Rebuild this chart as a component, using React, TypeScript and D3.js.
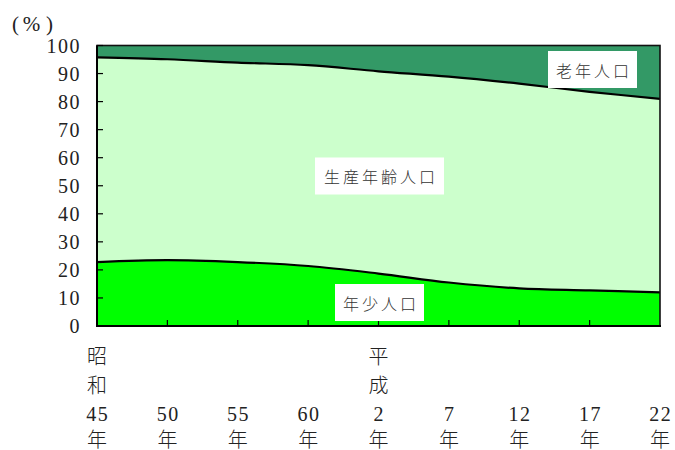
import React from "react";
import * as d3 from "d3";

// 年齢3区分別人口構成比（%）
const eraLabels = ["昭和", "", "", "", "平成", "", "", "", ""];
const yearLabels = ["45", "50", "55", "60", "2", "7", "12", "17", "22"];
const youngShare = [22.8, 23.5, 22.8, 21.4, 18.7, 15.5, 13.4, 12.7, 12.0];
const workingShare = [73.0, 71.6, 71.1, 71.6, 72.1, 73.4, 73.0, 70.8, 69.0];
const elderlyShare = [4.2, 4.9, 6.1, 7.0, 9.2, 11.1, 13.6, 16.5, 19.0];
const yTicks = [0, 10, 20, 30, 40, 50, 60, 70, 80, 90, 100];
const seriesKeys = ["young", "working", "elderly"];

const W = 675;
const H = 450;
const left = 97;
const right = 660;
const top = 45.5;
const bottom = 326;

const serif = "'Liberation Serif', 'DejaVu Serif', 'Noto Sans CJK JP', serif";
const gothic = "'Noto Sans CJK JP', 'Noto Sans', sans-serif";

const fills: Record<string, string> = {
  young: "#00ff00",
  working: "#ccffcc",
  elderly: "#339966",
};

export default function App() {
  const rows = yearLabels.map((y, i) => ({
    key: i,
    young: youngShare[i],
    working: workingShare[i],
    elderly: elderlyShare[i],
  }));
  const x = d3
    .scalePoint<number>()
    .domain(rows.map((r) => r.key))
    .range([left, right]);
  const y = d3.scaleLinear().domain([0, 100]).range([bottom, top]);
  const stacked = d3.stack<any>().keys(seriesKeys)(rows);

  const curve = d3.curveCatmullRom.alpha(0.5);
  const area = d3
    .area<any>()
    .x((d) => x(d.data.key) as number)
    .y0((d) => y(d[0]))
    .y1((d) => y(d[1]))
    .curve(curve);
  const boundary = d3
    .line<any>()
    .x((d) => x(d.data.key) as number)
    .y((d) => y(d[1]))
    .curve(curve);

  const labelBox = (
    cx: number,
    cy: number,
    w: number,
    h: number,
    text: string
  ) => (
    <g>
      <rect x={cx - w / 2} y={cy - h / 2} width={w} height={h} fill="#ffffff" />
      <text
        x={cx + 1.5}
        y={cy}
        textAnchor="middle"
        dominantBaseline="central"
        fontFamily={gothic}
        fontSize={16}
        fontWeight={300}
        letterSpacing={3}
        fill="#333333"
      >
        {text}
      </text>
    </g>
  );

  const kanji = {
    fontFamily: serif,
    fontSize: 20,
    fontWeight: 300,
    fill: "#222",
  } as const;

  return (
    <svg
      width={W}
      height={H}
      style={{ position: "absolute", left: 0, top: 0, background: "#fff" }}
    >
      {stacked.map((s) => (
        <path key={s.key} d={area(s) ?? ""} fill={fills[s.key]} />
      ))}
      {stacked.slice(0, 2).map((s) => (
        <path
          key={"b" + s.key}
          d={boundary(s) ?? ""}
          fill="none"
          stroke="#000"
          strokeWidth={2.2}
        />
      ))}
      {/* frame */}
      <rect
        x={left}
        y={top}
        width={right - left}
        height={bottom - top}
        fill="none"
        stroke="#111"
        strokeWidth={1.6}
      />
      <line x1={left} x2={left} y1={top} y2={bottom + 1} stroke="#000" strokeWidth={2} />
      <line x1={left - 1} x2={right + 1} y1={bottom} y2={bottom} stroke="#000" strokeWidth={2} />

      {/* y axis */}
      {yTicks.map((t) => (
        <g key={t}>
          <line x1={left} x2={left + 6} y1={y(t)} y2={y(t)} stroke="#000" strokeWidth={1.2} />
          <text
            x={81}
            y={y(t)}
            textAnchor="end"
            dominantBaseline="central"
            fontFamily={serif}
            fontSize={20}
            letterSpacing={1.5}
            fill="#222"
          >
            {t}
          </text>
        </g>
      ))}
      <g fontFamily={serif} fontSize={21} fill="#222">
        <text x={12} y={24} dominantBaseline="central">(</text>
        <text x={31.5} y={24} textAnchor="middle" dominantBaseline="central">%</text>
        <text x={46} y={24} dominantBaseline="central">)</text>
      </g>

      {/* x axis */}
      {rows.map((r, i) => {
        const cx = x(r.key) as number;
        const era = eraLabels[i];
        return (
          <g key={i}>
            {i > 0 && i < rows.length - 1 && (
              <line x1={cx} x2={cx} y1={bottom} y2={bottom - 6} stroke="#000" strokeWidth={1.2} />
            )}
            {era &&
              era.split("").map((ch, k) => (
                <text
                  key={k}
                  x={cx}
                  y={357 + k * 29}
                  textAnchor="middle"
                  dominantBaseline="central"
                  {...kanji}
                >
                  {ch}
                </text>
              ))}
            <text
              x={cx + 0.75}
              y={414}
              textAnchor="middle"
              dominantBaseline="central"
              fontFamily={serif}
              fontSize={20}
              letterSpacing={1.5}
              fill="#222"
            >
              {yearLabels[i]}
            </text>
            <text
              x={cx}
              y={439.5}
              textAnchor="middle"
              dominantBaseline="central"
              {...kanji}
            >
              年
            </text>
          </g>
        );
      })}

      {labelBox(592.5, 69.5, 89, 37, "老年人口")}
      {labelBox(379.5, 176, 129, 37, "生産年齢人口")}
      {labelBox(379.5, 302.5, 89, 37, "年少人口")}
    </svg>
  );
}
